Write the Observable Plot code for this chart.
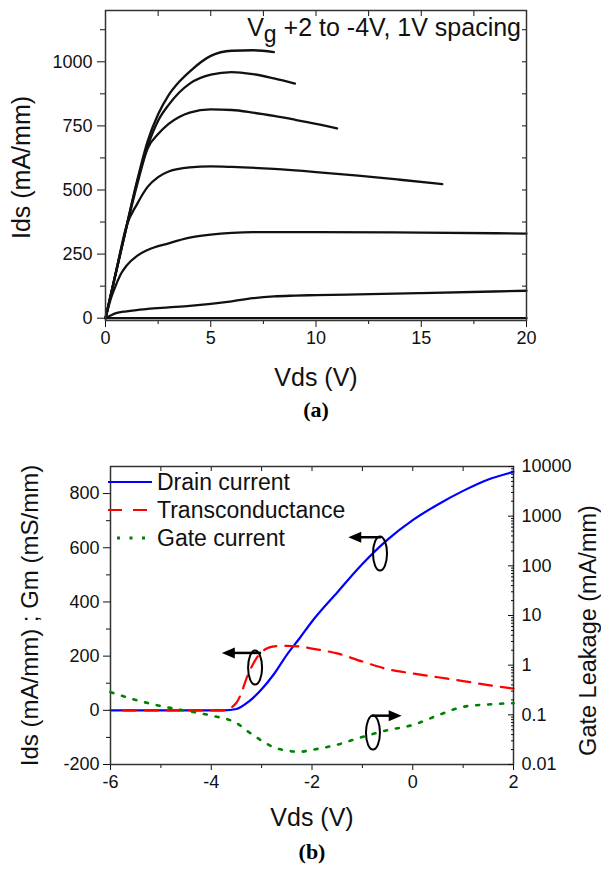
<!DOCTYPE html>
<html><head><meta charset="utf-8">
<script src="https://cdn.jsdelivr.net/npm/d3@7"></script>
<script src="https://cdn.jsdelivr.net/npm/@observablehq/plot@0.6"></script>
<style>
body{margin:0;background:#fff;}
#wrap{position:relative;width:601px;height:870px;font-family:"Liberation Sans",Arial,sans-serif;}
.p{position:absolute;left:0;}
.cap{position:absolute;font-family:"Liberation Serif","Times New Roman",serif;font-weight:bold;font-size:22px;transform:translate(-50%,-50%);line-height:1;}
</style></head><body><div id="wrap"></div>
<script>
// ---------- (a) output characteristics ----------
const vgNames = ["+2", "+1", "0", "-1", "-2", "-3", "-4"];
const vdsP2 = [0, 0.5, 1, 1.5, 2, 2.5, 3, 3.5, 4, 5, 6, 7, 8];
const idsP2 = [0, 180, 360, 536, 690, 795, 870, 922, 962, 1023, 1043, 1045, 1038];
const vdsP1 = [0, 0.5, 1, 1.5, 2, 2.5, 3, 3.5, 4, 5, 6, 7, 8, 9];
const idsP1 = [0, 180, 358, 530, 670, 770, 832, 880, 915, 950, 960, 952, 935, 915];
const vds0 = [0, 0.5, 1, 1.5, 2, 2.5, 3, 3.5, 4, 5, 6, 7, 8, 9, 10, 11];
const ids0 = [0, 178, 355, 520, 662, 718, 758, 785, 802, 814, 812, 802, 789, 774, 758, 740];
const vdsM1 = [0, 0.5, 1, 1.5, 2, 2.5, 3, 4, 5, 6, 8, 10, 12, 14, 16];
const idsM1 = [0, 182, 360, 445, 512, 550, 572, 588, 592, 590, 582, 570, 556, 540, 523];
const vdsM2 = [0, 0.25, 0.5, 0.75, 1, 1.5, 2, 3, 4, 5, 6, 7, 10, 15, 20];
const idsM2 = [0, 75, 130, 175, 205, 243, 266, 292, 314, 326, 333, 336, 336, 334, 330];
const vdsM3 = [0, 0.5, 1, 2, 3, 4, 5, 6, 7, 8, 9, 10, 12, 15, 20];
const idsM3 = [0, 20, 27, 36, 42, 48, 56, 66, 78, 85, 88, 90, 93, 98, 107];
const vdsM4 = [0, 20];
const idsM4 = [0, 0];
const vgLabelParts = ["V", "g", " +2 to -4V, 1V spacing"];
const aXTicks = [0, 5, 10, 15, 20];
const aYTicks = [0, 250, 500, 750, 1000];
const aXLabel = "Vds (V)";
const aYLabel = "Ids (mA/mm)";

// ---------- (b) transfer characteristics ----------
const vgsDrain = [-6, -5, -4, -3.75, -3.5, -3.25, -3, -2.75, -2.5, -2.25, -2, -1.5, -1, -0.5, 0, 0.5, 1, 1.5, 2];
const drain = [0, 0, 0, 0, 5, 33, 78, 135, 205, 265, 328, 435, 540, 630, 702, 760, 810, 852, 880];
const vgsGm = [-5.75, -5, -4.5, -4, -3.75, -3.5, -3.4, -3.3, -3.2, -3.1, -3, -2.9, -2.75, -2.5, -2.25, -2, -1.5, -1, -0.5, 0, 0.5, 1, 1.5, 2];
const gm = [0, 0, 0, 0, 0, 28, 65, 118, 160, 193, 215, 228, 236, 238, 236, 228, 210, 180, 152, 136, 122, 108, 93, 80];
const vgsGate = [-6, -5.5, -5, -4.5, -4, -3.5, -3.25, -3, -2.75, -2.5, -2.25, -2, -1.5, -1, -0.5, 0, 0.5, 1, 1.5, 2];
const gate = [0.286, 0.2, 0.15, 0.121, 0.0964, 0.0684, 0.0447, 0.0302, 0.022, 0.0191, 0.018, 0.0197, 0.0251, 0.0359, 0.049, 0.0624, 0.0977, 0.145, 0.162, 0.172];
const seriesNames = ["Drain current", "Transconductance", "Gate current"];
const bXTicks = [-6, -4, -2, 0, 2];
const bYTicks = [-200, 0, 200, 400, 600, 800];
const gateTicks = [0.01, 0.1, 1, 10, 100, 1000, 10000];
const gateTickLabels = ["0.01", "0.1", "1", "10", "100", "1000", "10000"];
const bXLabel = "Vds (V)";
const bYLabel = "Ids (mA/mm) ; Gm (mS/mm)";
const bY2Label = "Gate Leakage (mA/mm)";
// annotation anchors (data units): ellipse centre, arrow from x1 to x2 at y
const annoLeftAxis = [
  {ex: -3.12, ey: 156, ax1: -3.0, ax2: -3.78, ay: 210},
  {ex: -0.64, ey: 577, ax1: -0.62, ax2: -1.27, ay: 637}
];
const annoRightAxis = [
  {ex: -0.78, ey: 0.043, ax1: -0.80, ax2: -0.21, ay: 0.094}
];

const FONT = "'Liberation Sans', Arial, Helvetica, sans-serif";
const INK = "#111";
const wrap = document.getElementById("wrap");

// ---------------- chart (a) ----------------
const curveSets = [[vdsP2, idsP2], [vdsP1, idsP1], [vds0, ids0], [vdsM1, idsM1], [vdsM2, idsM2], [vdsM3, idsM3], [vdsM4, idsM4]];
const rowsA = curveSets.flatMap(([xs, ys], i) => xs.map((v, j) => ({vg: vgNames[i], vds: v, ids: ys[j]})));
const blank = () => "";

function vgLabel(index, scales, values, dims) {
  const t = d3.create("svg:text")
    .attr("x", dims.width - dims.marginRight - 5)
    .attr("y", dims.marginTop + 26)
    .attr("text-anchor", "end")
    .attr("font-size", 25)
    .attr("font-family", FONT)
    .attr("fill", INK);
  t.append("tspan").text(vgLabelParts[0]);
  t.append("tspan").attr("dy", 6).attr("font-size", 23).text(vgLabelParts[1]);
  t.append("tspan").attr("dy", -6).text(vgLabelParts[2]);
  return t.node();
}

const titleOpts = {textAnchor: "middle", lineAnchor: "middle"};

const chartA = Plot.plot({
  width: 601, height: 400,
  marginLeft: 105, marginRight: 75, marginTop: 10, marginBottom: 80,
  style: {fontFamily: FONT, fontSize: "18px", color: INK, background: "transparent", overflow: "visible"},
  x: {domain: [0, 20]},
  y: {domain: [-9, 1200]},
  marks: [
    Plot.line(rowsA, {x: "vds", y: "ids", z: "vg", stroke: INK, strokeWidth: 2.3, curve: "monotone-x"}),
    Plot.axisX({ticks: aXTicks, tickSize: 7, tickPadding: 4, tickFormat: d => String(d), label: null, fontSize: 18}),
    Plot.axisX({ticks: [2.5, 7.5, 12.5, 17.5], tickSize: 4, tickFormat: blank, label: null}),
    Plot.axisX({anchor: "top", ticks: [2.5, 5, 7.5, 10, 12.5, 15, 17.5], tickSize: 5, dy: 5, tickFormat: blank, label: null}),
    Plot.axisY({ticks: aYTicks, tickSize: 8, tickPadding: 5, tickFormat: d => String(d), label: null, fontSize: 18}),
    Plot.axisY({ticks: [125, 375, 625, 875, 1125], tickSize: 5, tickFormat: blank, label: null}),
    Plot.axisY({anchor: "right", ticks: [125, 250, 375, 500, 625, 750, 875, 1000, 1125], tickSize: 5, dx: -5, tickFormat: blank, label: null}),
    Plot.frame({stroke: "#333", strokeWidth: 1.5}),
    Plot.text([aXLabel], {...titleOpts, text: d => d, frameAnchor: "bottom", dy: 57, fontSize: 25}),
    Plot.text([aYLabel], {...titleOpts, text: d => d, frameAnchor: "left", dx: -84, dy: 2, rotate: -90, fontSize: 25}),
    vgLabel
  ]
});
chartA.classList.add("p");
chartA.style.top = "0px";
wrap.appendChild(chartA);

const capA = document.createElement("div");
capA.className = "cap"; capA.textContent = "(a)";
capA.style.left = "316px"; capA.style.top = "410px";
wrap.appendChild(capA);

// ---------------- chart (b) ----------------
const rowsDrain = vgsDrain.map((v, i) => ({vgs: v, val: drain[i]}));
const rowsGm = vgsGm.map((v, i) => ({vgs: v, val: gm[i]}));
const rowsGate = vgsGate.map((v, i) => ({vgs: v, val: gate[i]}));
const legendStyles = [
  {stroke: "#0000ff", dash: null},
  {stroke: "#ff0000", dash: "14,11"},
  {stroke: "#008000", dash: "3,9.5"}
];

function legend(index, scales, values, dims) {
  const g = d3.create("svg:g").attr("font-family", FONT).attr("font-size", 23).attr("fill", INK).attr("text-anchor", "start");
  seriesNames.forEach((name, i) => {
    const y = dims.marginTop + 16 + i * 28;
    const st = legendStyles[i];
    g.append("line")
      .attr("x1", i === 2 ? dims.marginLeft + 7 : dims.marginLeft - 2).attr("x2", dims.marginLeft + 42)
      .attr("y1", y).attr("y2", y)
      .attr("stroke", st.stroke).attr("stroke-width", i === 2 ? 2.8 : 2.2)
      .attr("stroke-dasharray", st.dash);
    g.append("text").attr("x", dims.marginLeft + 47).attr("y", y).attr("dy", "0.36em").attr("text-anchor", "start").text(name);
  });
  return g.node();
}

function annot(list) {
  return (index, scales, values, dims) => {
    const g = d3.create("svg:g").attr("fill", "none").attr("stroke", "#000");
    for (const a of list) {
      g.append("ellipse")
        .attr("cx", scales.x(a.ex)).attr("cy", scales.y(a.ey))
        .attr("rx", 7).attr("ry", 17).attr("stroke-width", 2);
      const x1 = scales.x(a.ax1), x2 = scales.x(a.ax2), y = scales.y(a.ay);
      const dir = Math.sign(x2 - x1);
      g.append("line").attr("x1", x1).attr("x2", x2 - dir * 10).attr("y1", y).attr("y2", y).attr("stroke-width", 2.5);
      g.append("path")
        .attr("d", `M${x2},${y}L${x2 - dir * 13},${y - 5.5}L${x2 - dir * 13},${y + 5.5}Z`)
        .attr("fill", "#000").attr("stroke", "none");
    }
    return g.node();
  };
}

const dimB = {width: 601, height: 400, marginLeft: 110, marginRight: 88, marginTop: 26, marginBottom: 76};
const styleB = {fontFamily: FONT, fontSize: "18px", color: INK, background: "transparent", overflow: "visible"};

const chartB1 = Plot.plot({
  ...dimB,
  style: styleB,
  x: {domain: [-6, 2]},
  y: {domain: [-200, 900]},
  marks: [
    Plot.line(rowsDrain, {x: "vgs", y: "val", stroke: "#0000ff", strokeWidth: 2.2, curve: "monotone-x"}),
    Plot.line(rowsGm, {x: "vgs", y: "val", stroke: "#ff0000", strokeWidth: 2.2, strokeDasharray: "13,9", curve: "monotone-x"}),
    Plot.axisX({ticks: bXTicks, tickSize: 6, tickPadding: 5, tickFormat: d => String(d), label: null, fontSize: 18}),
    Plot.axisX({ticks: [-5, -3, -1, 1], tickSize: 4, tickFormat: blank, label: null}),
    Plot.axisX({anchor: "top", ticks: [-5, -4, -3, -2, -1, 0, 1], tickSize: 4, dy: 4, tickFormat: blank, label: null}),
    Plot.axisY({ticks: bYTicks, tickSize: 7, tickPadding: 4, tickFormat: d => String(d), label: null, fontSize: 18}),
    Plot.axisY({ticks: [-100, 100, 300, 500, 700], tickSize: 4, tickFormat: blank, label: null}),
    Plot.frame({stroke: "#333", strokeWidth: 1.5}),
    Plot.text([bXLabel], {...titleOpts, text: d => d, frameAnchor: "bottom", dy: 53, fontSize: 25}),
    Plot.text([bYLabel], {...titleOpts, text: d => d, frameAnchor: "left", dx: -80, rotate: -90, fontSize: 24}),
    legend,
    annot(annoLeftAxis)
  ]
});
chartB1.classList.add("p");
chartB1.style.top = "440px";
wrap.appendChild(chartB1);

const minorLog = [];
for (const d of [0.01, 0.1, 1, 10, 100, 1000]) for (const m of [2, 3, 4, 5, 6, 7, 8, 9]) minorLog.push(+(d * m).toPrecision(3));

const chartB2 = Plot.plot({
  ...dimB,
  style: styleB,
  x: {domain: [-6, 2], axis: null},
  y: {type: "log", domain: [0.01, 10000]},
  marks: [
    Plot.line(rowsGate, {x: "vgs", y: "val", stroke: "#008000", strokeWidth: 2.6, strokeDasharray: "3,9", curve: "monotone-x"}),
    Plot.axisY({anchor: "right", ticks: gateTicks, tickSize: 6, dx: -6, tickFormat: blank, label: null}),
    Plot.axisY({anchor: "right", ticks: minorLog, tickSize: 3, dx: -3, tickFormat: blank, label: null}),
    Plot.axisY({anchor: "right", ticks: gateTicks, tickSize: 0, tickPadding: 8, tickFormat: d => gateTickLabels[gateTicks.indexOf(d)], label: null, fontSize: 18}),
    Plot.text([bY2Label], {...titleOpts, text: d => d, frameAnchor: "right", dx: 75, dy: 15, rotate: -90, fontSize: 23.5}),
    annot(annoRightAxis)
  ]
});
chartB2.classList.add("p");
chartB2.style.top = "440px";
wrap.appendChild(chartB2);

const capB = document.createElement("div");
capB.className = "cap"; capB.textContent = "(b)";
capB.style.left = "312px"; capB.style.top = "852px";
wrap.appendChild(capB);
</script>
</body></html>
